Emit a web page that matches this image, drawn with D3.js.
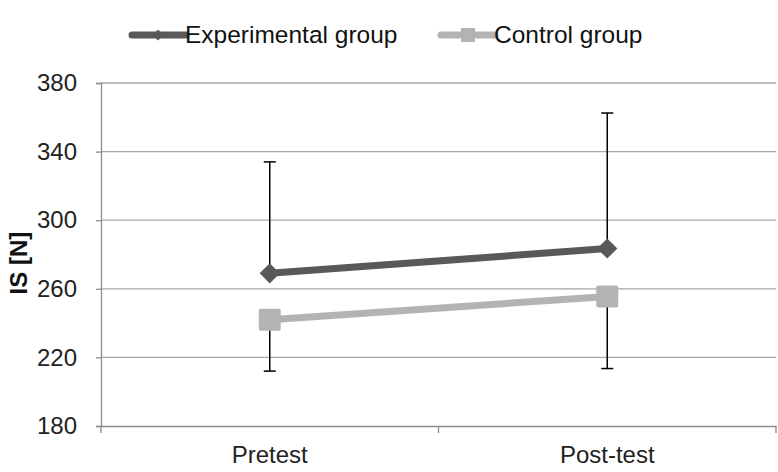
<!DOCTYPE html>
<html><head><meta charset="utf-8">
<script src="https://cdn.jsdelivr.net/npm/d3@7"></script>
<style>body{margin:0;background:#fff}svg{display:block;font-family:"Liberation Sans",Arial,sans-serif}</style>
</head><body>
<script>
const categories = ["Pretest", "Post-test"];
const seriesNames = ["Experimental group", "Control group"];
const experimental = [269, 283.5];
const control = [242, 255.5];
const experimentalErr = [65, 79];   // drawn upward
const controlErr = [30, 42];        // drawn downward
const yTicks = [180, 220, 260, 300, 340, 380];

const W = 778, H = 472;
const FONT = "Liberation Sans, Arial, sans-serif";
const svg = d3.select("body").append("svg").attr("width", W).attr("height", H);
const x = d3.scaleBand().domain(categories).range([101, 776]);
const y = d3.scaleLinear().domain([180, 380]).range([426, 83]);

// gridlines
svg.append("g").selectAll("line").data(yTicks.slice(1)).join("line")
  .attr("x1", 101).attr("x2", 776).attr("y1", d => y(d)).attr("y2", d => y(d))
  .attr("stroke", "#a6a6a6").attr("stroke-width", 1.3);

// y axis
const ya = svg.append("g").attr("transform", "translate(101,0)")
  .call(d3.axisLeft(y).tickValues(yTicks).tickSize(5).tickPadding(19));
ya.select(".domain").attr("stroke", "#8c8c8c").attr("stroke-width", 1.3);
ya.selectAll(".tick line").attr("stroke", "#8c8c8c").attr("stroke-width", 1.3);
ya.selectAll("text").attr("font-size", 24).attr("fill", "#222").attr("font-family", FONT);

// x axis
const xa = svg.append("g").attr("transform", "translate(0,426)")
  .call(d3.axisBottom(x).tickSize(0).tickPadding(20));
xa.select(".domain").attr("stroke", "#8c8c8c").attr("stroke-width", 1.3);
xa.selectAll("text").attr("font-size", 24).attr("fill", "#222").attr("font-family", FONT);
svg.append("g").selectAll("line").data(categories.concat(["end"])).join("line")
  .attr("x1", (d, i) => i === 0 ? x.range()[0] : i === 1 ? x(categories[1]) : x.range()[1])
  .attr("x2", (d, i) => i === 0 ? x.range()[0] : i === 1 ? x(categories[1]) : x.range()[1])
  .attr("y1", 426).attr("y2", 433).attr("stroke", "#8c8c8c").attr("stroke-width", 1.3);

// y title
svg.append("text").attr("transform", `translate(27,${y(275)}) rotate(-90)`)
  .attr("text-anchor", "middle").attr("font-size", 24).attr("font-weight", "bold").attr("fill", "#111")
  .attr("font-family", FONT).text("IS [N]");

const cx = d => x(d) + x.bandwidth() / 2;

// error bars
function errBars(vals, errs, dir) {
  const g = svg.append("g").attr("stroke", "#000").attr("stroke-width", 1.5);
  categories.forEach((c, i) => {
    const y0 = y(vals[i]), y1 = y(vals[i] + dir * errs[i]);
    g.append("line").attr("x1", cx(c)).attr("x2", cx(c)).attr("y1", y0).attr("y2", y1);
    g.append("line").attr("x1", cx(c) - 6).attr("x2", cx(c) + 6).attr("y1", y1).attr("y2", y1);
  });
}
errBars(experimental, experimentalErr, 1);
errBars(control, controlErr, -1);

const line = d3.line().x((d, i) => cx(categories[i])).y(d => y(d));
svg.append("path").datum(control).attr("d", line).attr("fill", "none").attr("stroke", "#b3b3b3").attr("stroke-width", 7);
svg.append("path").datum(experimental).attr("d", line).attr("fill", "none").attr("stroke", "#595959").attr("stroke-width", 7);

svg.append("g").selectAll("rect").data(control).join("rect")
  .attr("x", (d, i) => cx(categories[i]) - 11).attr("y", d => y(d) - 11)
  .attr("width", 22).attr("height", 22).attr("rx", 2).attr("fill", "#b3b3b3");
const diamond = d3.symbol().type(d3.symbolDiamond2).size(260);
svg.append("g").selectAll("path").data(experimental).join("path")
  .attr("transform", (d, i) => `translate(${cx(categories[i])},${y(d)})`)
  .attr("d", diamond).attr("fill", "#595959");

// legend
const leg = svg.append("g");
leg.append("line").attr("x1", 132).attr("x2", 186).attr("y1", 35).attr("y2", 35).attr("stroke", "#595959").attr("stroke-width", 7).attr("stroke-linecap", "round");
leg.append("path").attr("transform", "translate(158,35)").attr("d", d3.symbol().type(d3.symbolDiamond2).size(80)).attr("fill", "#595959");
leg.append("text").attr("x", 185).attr("y", 43).attr("font-size", 24.5).attr("fill", "#111").attr("font-family", FONT).text(seriesNames[0]);
leg.append("line").attr("x1", 441).attr("x2", 495).attr("y1", 35).attr("y2", 35).attr("stroke", "#b3b3b3").attr("stroke-width", 7).attr("stroke-linecap", "round");
leg.append("rect").attr("x", 461).attr("y", 28).attr("width", 14).attr("height", 14).attr("fill", "#b3b3b3");
leg.append("text").attr("x", 494).attr("y", 43).attr("font-size", 24.5).attr("fill", "#111").attr("font-family", FONT).text(seriesNames[1]);
</script>
</body></html>
